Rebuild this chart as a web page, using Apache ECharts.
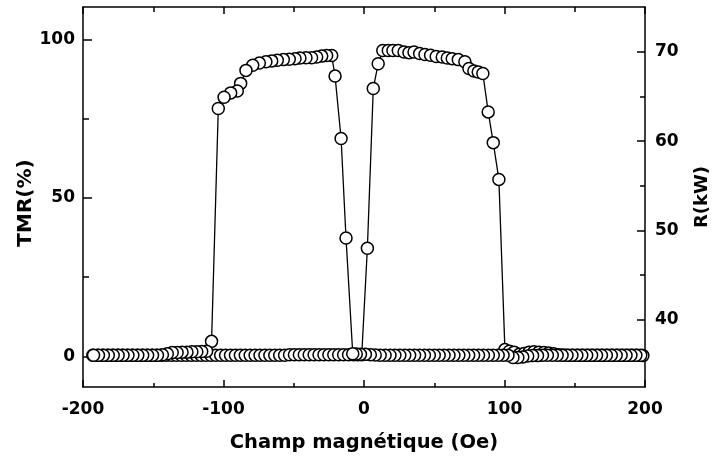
<!DOCTYPE html>
<html>
<head>
<meta charset="utf-8">
<script src="https://cdn.jsdelivr.net/npm/echarts@6/dist/echarts.min.js"></script>
<style>
html,body{margin:0;padding:0;background:#fff;}
#chart{width:713px;height:457px;}
</style>
</head>
<body>
<div id="chart"></div>
<script>
// ---- Data (field in Oe, TMR in %) ----
// Up sweep (field increasing)
const upBaseLeft = [
  [-193,0.3],[-189.5,0.3],[-186,0.3],[-182.5,0.3],[-179,0.3],[-175.5,0.3],[-172,0.3],[-168.5,0.3],
  [-165,0.3],[-161.5,0.3],[-158,0.3],[-154.5,0.3],[-151,0.3],[-147.5,0.3],[-144,0.3],[-140.5,0.3],
  [-137,0.3],[-133.5,0.3],[-130,0.3],[-126.5,0.3],[-123,0.3],[-119.5,0.3],[-116,0.3],[-112.5,0.3],
  [-109,0.3],[-105.5,0.3],[-102,0.3],[-98.5,0.3],[-95,0.3],[-91.5,0.3],[-88,0.3],[-84.5,0.3],
  [-81,0.3],[-77.5,0.3],[-74,0.3],[-70.5,0.3],[-67,0.3],[-63.5,0.3],[-60,0.3],[-56.5,0.3],
  [-53,0.5],[-49.5,0.5],[-46,0.5],[-42.5,0.5],[-39,0.5],[-35.5,0.5],[-32,0.5],[-28.5,0.5],
  [-25,0.5],[-21.5,0.5],[-18,0.5],[-14.5,0.5],[-11,0.5],[-7.5,0.5],[-4.5,0.5],[-1.6,0.5]
];
const upPeak = [
  [2.4,34.1],[6.6,84.5],[10.1,92.3],[13.4,96.5],[17.3,96.5],[20.6,96.5],[24.4,96.5],[28.5,96.0],
  [32.0,95.8],[35.6,96.0],[39.6,95.5],[43.4,95.2],[47.4,95.0],[51.4,94.6],[55.7,94.4],[59.3,94.1],
  [62.8,93.9],[67.1,93.6],[71.8,92.9],[74.7,90.8],[78.2,90.0],[81.3,89.7],[84.6,89.2],[88.4,77.1],
  [92.0,67.4],[96.0,55.8]
];
const upBaseRight = [
  [100.3,2.1],[103.5,1.6],[106.8,1.3],[110.5,0.6],[114,0.9],[117.5,1.3],[121,1.4],[124.5,1.3],
  [128,1.2],[131.5,1.0],[135,0.8],[138.5,0.5],[142,0.4],[145.5,0.3],[149,0.3],[152.5,0.3],
  [156,0.3],[159.5,0.3],[163,0.3],[166.5,0.3],[170,0.3],[173.5,0.3],[177,0.3],[180.5,0.3],
  [184,0.3],[187.5,0.3],[191,0.3],[194.5,0.3],[198.5,0.2]
];
// Down sweep (field decreasing)
const downBaseRight = [
  [197,0.3],[193.5,0.3],[190,0.3],[186.5,0.3],[183,0.3],[179.5,0.3],[176,0.3],[172.5,0.3],
  [169,0.3],[165.5,0.3],[162,0.3],[158.5,0.3],[155,0.3],[151.5,0.3],[148,0.3],[144.5,0.3],
  [141,0.3],[137.5,0.3],[134,0.3],[130.5,0.3],[127,0.3],[123.5,0.2],[120,0.2],[116.5,0.1],
  [113,-0.2],[109.5,-0.4],[106,-0.4],[102.5,0.3],[99,0.3],[95.5,0.3],[92,0.3],[88.5,0.3],
  [85,0.3],[81.5,0.3],[78,0.3],[74.5,0.3],[71,0.3],[67.5,0.3],[64,0.3],[60.5,0.3],
  [57,0.3],[53.5,0.3],[50,0.3],[46.5,0.3],[43,0.3],[39.5,0.3],[36,0.3],[32.5,0.3],
  [29,0.3],[25.5,0.3],[22,0.3],[18.5,0.3],[15,0.3],[11.5,0.3],[8,0.4],[4.5,0.5],
  [1,0.6],[-2.5,0.6],[-5.5,0.7],[-8,0.8]
];
const downPeak = [
  [-12.8,37.3],[-16.3,68.7],[-20.6,88.4],[-23.0,94.9],[-26.6,94.9],[-30.1,94.7],[-33.7,94.4],[-37.3,94.2],
  [-41.3,94.2],[-45.6,94.1],[-49.1,93.9],[-53.2,93.7],[-57.4,93.6],[-61.7,93.4],[-65.7,93.2],[-69.8,92.9],
  [-74.5,92.5],[-79.2,91.8],[-84.0,90.2],[-87.8,86.1],[-90.2,83.7],[-94.9,83.1],[-99.6,81.7],[-103.7,78.2]
];
const downBaseLeft = [
  [-108.5,4.7],[-112,1.6],[-115.5,1.5],[-119,1.4],[-122.5,1.4],[-126,1.3],[-129.5,1.3],[-133,1.2],
  [-136.5,1.2],[-140,0.8],[-143.5,0.5],[-147,0.3],[-150.5,0.3],[-154,0.3],[-157.5,0.3],[-161,0.3],
  [-164.5,0.3],[-168,0.3],[-171.5,0.3],[-175,0.3],[-178.5,0.3],[-182,0.3],[-185.5,0.3],[-189,0.3],
  [-192.5,0.3]
];

// Axis tick values
const xTicks = [-200, -100, 0, 100, 200];
const tmrLabels = [0, 50, 100];
const tmrMinor = [25, 75];
const rLabels = [40, 50, 60, 70];
const rMinor = [45, 55, 65];

const upSweep = upBaseLeft.concat(upPeak, upBaseRight);
const downSweep = downBaseRight.concat(downPeak, downBaseLeft);

const FONT = '"DejaVu Sans", "Liberation Sans", Arial, sans-serif';
const black = '#000';
const lineW = 1.5;

const chart = echarts.init(document.getElementById('chart'), null, {renderer: 'canvas'});

const tickStyle = {color: black, width: lineW};
const labelStyle = {color: black, fontFamily: FONT, fontWeight: 'bold', fontSize: 17};

chart.setOption({
  animation: false,
  backgroundColor: '#fff',
  grid: {left: 83, right: 68, top: 7, bottom: 70, containLabel: false, outerBoundsMode: 'none'},
  xAxis: [
    {
      type: 'value', position: 'bottom', min: -200, max: 200, interval: 100,
      axisLine: {show: true, onZero: false, lineStyle: {color: black, width: lineW}},
      axisTick: {show: true, inside: true, length: 7, lineStyle: tickStyle},
      minorTick: {show: true, splitNumber: 2, length: 4, lineStyle: tickStyle},
      axisLabel: Object.assign({margin: 14, customValues: xTicks}, labelStyle),
      splitLine: {show: false},
      name: 'Champ magnétique (Oe)', nameLocation: 'middle', nameGap: 46,
      nameTextStyle: {color: black, fontFamily: FONT, fontWeight: 'bold', fontSize: 19.5}
    },
    {
      type: 'value', position: 'top', min: -200, max: 200, interval: 100,
      axisLine: {show: true, onZero: false, lineStyle: {color: black, width: lineW}},
      axisTick: {show: true, inside: true, length: 7, lineStyle: tickStyle},
      minorTick: {show: true, splitNumber: 2, length: 5, lineStyle: tickStyle},
      axisLabel: {show: false},
      splitLine: {show: false}
    }
  ],
  yAxis: [
    {
      type: 'value', position: 'left', min: -9.7, max: 110.2,
      axisLine: {show: true, onZero: false, lineStyle: {color: black, width: lineW}},
      axisTick: {show: true, inside: true, length: 9, customValues: tmrLabels, lineStyle: tickStyle},
      axisLabel: Object.assign({margin: 8, customValues: tmrLabels}, labelStyle),
      splitLine: {show: false},
      name: 'TMR(%)', nameLocation: 'middle', nameGap: 47, nameRotate: 90, nameMoveOverlap: false,
      nameTextStyle: {color: black, fontFamily: FONT, fontWeight: 'bold', fontSize: 20, padding: [0, 12, 0, 0]}
    },
    {
      type: 'value', position: 'right', min: 32.5, max: 75,
      axisLine: {show: true, onZero: false, lineStyle: {color: black, width: lineW}},
      axisTick: {show: true, inside: true, length: 8, customValues: rLabels, lineStyle: tickStyle},
      axisLabel: Object.assign({margin: 10, customValues: rLabels}, labelStyle),
      splitLine: {show: false},
      name: 'R(kW)', nameLocation: 'middle', nameGap: 48, nameRotate: 90,
      nameTextStyle: {color: black, fontFamily: FONT, fontWeight: 'bold', fontSize: 18}
    },
    {
      type: 'value', position: 'left', min: -9.7, max: 110.2,
      axisLine: {show: false, onZero: false},
      axisTick: {show: true, inside: true, length: 6, customValues: tmrMinor, lineStyle: tickStyle},
      axisLabel: {show: false},
      splitLine: {show: false}
    },
    {
      type: 'value', position: 'right', min: 32.5, max: 75,
      axisLine: {show: false, onZero: false},
      axisTick: {show: true, inside: true, length: 5, customValues: rMinor, lineStyle: tickStyle},
      axisLabel: {show: false},
      splitLine: {show: false}
    }
  ],
  series: [
    {
      name: 'up', type: 'line', xAxisIndex: 0, yAxisIndex: 0, data: upSweep,
      symbol: 'circle', symbolSize: 12, showSymbol: true, showAllSymbol: true,
      itemStyle: {color: '#fff', borderColor: black, borderWidth: 1.5},
      lineStyle: {color: black, width: 1.3}
    },
    {
      name: 'down', type: 'line', xAxisIndex: 0, yAxisIndex: 0, data: downSweep,
      symbol: 'circle', symbolSize: 12, showSymbol: true, showAllSymbol: true,
      itemStyle: {color: '#fff', borderColor: black, borderWidth: 1.5},
      lineStyle: {color: black, width: 1.3}
    }
  ]
});
</script>
</body>
</html>
